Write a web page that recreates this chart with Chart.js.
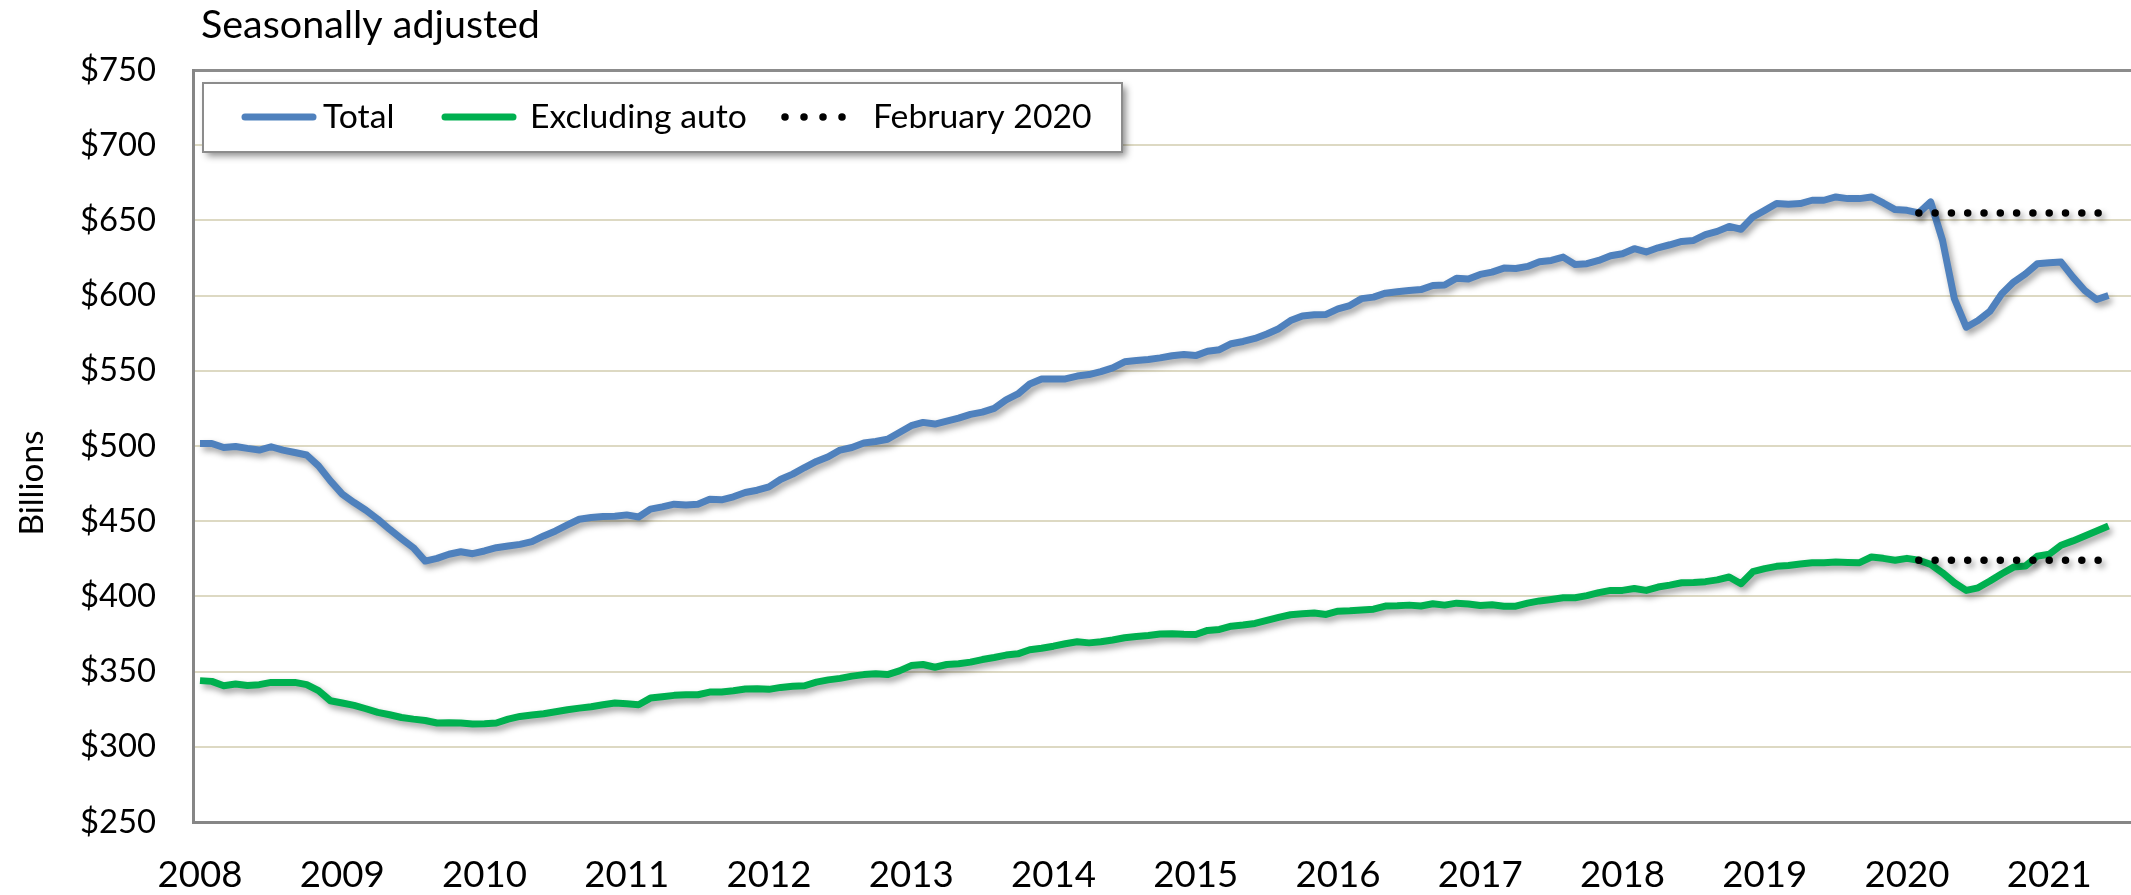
<!DOCTYPE html>
<html>
<head>
<meta charset="utf-8">
<script src="https://cdn.jsdelivr.net/npm/chart.js@4.4.0/dist/chart.umd.min.js"></script>
<style>
html,body{margin:0;padding:0;background:#fff;overflow:hidden}
#wrap{position:relative;width:2131px;height:895px}
canvas{display:block}
</style>
</head>
<body>
<div id="wrap"><canvas id="c" width="2131" height="895"></canvas></div>
<script>
// ---- data ----
const yearLabels = ['2008','2009','2010','2011','2012','2013','2014','2015','2016','2017','2018','2019','2020','2021'];
const monthNames = ['Jan','Feb','Mar','Apr','May','Jun','Jul','Aug','Sep','Oct','Nov','Dec'];
const yTickValues = [250,300,350,400,450,500,550,600,650,700,750];

// Total retail inventories, billions of dollars, Jan 2008 - Jun 2021
const total = [
501.7,501.7,499.0,499.7,498.4,497.3,499.5,497.3,495.7,494.0,486.8,476.8,
468.0,462.4,457.3,451.3,444.6,438.4,432.4,423.5,425.3,428.0,429.7,428.4,
430.2,432.4,433.5,434.6,436.4,440.2,443.5,447.5,451.3,452.4,453.1,453.3,
454.2,452.8,458.0,459.5,461.3,460.8,461.3,464.6,464.2,466.2,469.1,470.6,
472.8,477.9,481.3,485.7,489.7,492.8,497.3,499.0,502.0,503.0,504.5,509.0,
513.5,515.7,514.6,516.5,518.5,521.0,522.5,525.0,530.6,534.6,541.2,544.6,
544.6,544.6,546.5,547.5,549.5,552.0,556.0,556.8,557.5,558.6,560.0,560.8,
560.1,563.0,564.0,568.0,569.5,571.5,574.5,578.0,583.4,586.5,587.2,587.5,
591.2,593.4,598.0,599.0,601.6,602.5,603.4,604.0,606.7,607.0,611.5,611.0,
614.1,615.6,618.3,618.0,619.4,622.5,623.4,625.6,620.7,621.2,623.4,626.5,
627.8,631.2,629.0,631.8,633.8,636.0,636.7,640.5,642.7,646.0,644.1,652.3,
656.7,661.2,660.7,661.2,663.4,663.4,665.6,664.5,664.5,665.6,661.6,657.2,
656.7,655.0,662.3,636.7,597.9,579.0,583.4,589.6,601.2,609.0,614.5,621.2,
621.9,622.3,612.3,603.4,597.4,600.1
];

// Excluding auto
const exAuto = [
344.0,343.5,340.6,341.7,340.8,341.3,342.8,342.8,342.8,341.3,337.3,330.6,
329.1,327.5,325.3,322.9,321.3,319.5,318.4,317.5,315.8,316.0,315.8,315.1,
315.3,315.8,318.4,320.2,321.1,322.0,323.3,324.6,325.7,326.6,328.0,329.1,
328.6,328.0,332.4,333.3,334.2,334.6,334.6,336.4,336.4,337.3,338.4,338.6,
338.2,339.5,340.2,340.6,343.0,344.5,345.5,347.0,348.0,348.5,348.0,350.5,
354.0,354.7,352.9,354.7,355.2,356.3,358.0,359.4,361.0,361.8,364.5,365.5,
366.9,368.5,369.8,369.1,369.8,371.0,372.5,373.4,374.0,375.0,375.2,374.8,
374.7,377.4,378.0,380.2,381.0,382.0,384.0,386.0,387.8,388.5,389.0,388.0,
390.2,390.5,391.0,391.5,393.6,393.8,394.2,393.6,395.1,394.2,395.5,395.0,
394.0,394.4,393.5,393.5,395.5,397.0,398.0,399.1,399.1,400.5,402.5,404.0,
404.0,405.3,404.0,406.2,407.5,409.1,409.3,409.8,411.0,412.9,408.4,416.4,
418.5,420.0,420.6,421.5,422.4,422.4,422.8,422.6,422.4,426.2,425.3,424.0,
425.3,424.0,421.3,415.7,409.1,404.0,405.7,410.2,415.1,419.5,420.2,426.8,
428.0,434.0,436.9,440.2,443.5,446.8
];

const febLabel = 'Feb 2020';
const titleText = 'Seasonally adjusted';
const yTitleText = 'Billions';

// month categories
const categories = total.map((v, i) => monthNames[i % 12] + ' ' + yearLabels[Math.floor(i / 12)]);
const febIndex = categories.indexOf(febLabel);
const lastIndex = categories.length - 1;

// ---- styles ----
const FONT = 'Lato';
function fitSize(text, width) {
  const c = document.createElement('canvas').getContext('2d');
  c.font = '100px ' + FONT;
  return 100 * width / c.measureText(text).width;
}
const yTickSize = fitSize('$250', 76);
const xTickSize = fitSize('2008', 85);
const titleSize = fitSize(titleText, 339);
const yTitleSize = fitSize(yTitleText, 105);
const legendSize = fitSize('Excluding auto', 217);

const BLUE = '#4F81BD', GREEN = '#00B050', DOT = '#000000';

const toXY = arr => arr.map((v, i) => ({x: i, y: v}));
const flat = (arr) => [{x: febIndex, y: arr[febIndex]}, {x: lastIndex, y: arr[febIndex]}];

const datasets = [
  {label: 'Total', data: toXY(total), borderColor: BLUE, borderWidth: 7, order: 1},
  {label: 'Excluding auto', data: toXY(exAuto), borderColor: GREEN, borderWidth: 7, order: 1},
  {label: 'February 2020', data: flat(total), borderColor: DOT, borderWidth: 7.5, borderDash: [0, 16.3], borderCapStyle: 'round', order: 0},
  {label: 'February 2020 (ex auto)', data: flat(exAuto), borderColor: DOT, borderWidth: 7.5, borderDash: [0, 16.3], borderCapStyle: 'round', order: 0, inLegend: false}
];
datasets.forEach(d => { d.pointRadius = 0; d.tension = 0; d.fill = false; d.borderJoinStyle = 'round'; });

const shadowPlugin = {
  id: 'shadow',
  beforeDatasetDraw(chart) {
    const ctx = chart.ctx;
    ctx.save();
    ctx.shadowColor = 'rgba(0,0,0,0.38)';
    ctx.shadowBlur = 6;
    ctx.shadowOffsetX = 3;
    ctx.shadowOffsetY = 4;
  },
  afterDatasetDraw(chart) { chart.ctx.restore(); }
};

const decorPlugin = {
  id: 'decor',
  afterDraw(chart) {
    const ctx = chart.ctx;
    ctx.save();
    ctx.fillStyle = '#000';
    ctx.textAlign = 'left';
    ctx.textBaseline = 'alphabetic';
    ctx.font = titleSize + 'px ' + FONT;
    ctx.fillText(titleText, 201, 38);

    ctx.save();
    ctx.translate(43, 483);
    ctx.rotate(-Math.PI / 2);
    ctx.textAlign = 'center';
    ctx.font = yTitleSize + 'px ' + FONT;
    ctx.fillText(yTitleText, 0, 0);
    ctx.restore();

    // legend box
    const bx = 203, by = 83, bw = 919, bh = 69;
    ctx.save();
    ctx.shadowColor = 'rgba(0,0,0,0.45)';
    ctx.shadowBlur = 7;
    ctx.shadowOffsetX = 4;
    ctx.shadowOffsetY = 4;
    ctx.fillStyle = '#fff';
    ctx.fillRect(bx, by, bw, bh);
    ctx.restore();
    ctx.strokeStyle = '#8C8C8C';
    ctx.lineWidth = 2;
    ctx.strokeRect(bx, by, bw, bh);

    const items = chart.data.datasets.filter(d => d.inLegend !== false);
    const sampleX = [242, 442, 781];
    const textX = [323, 530, 873];
    const sy = 117;
    ctx.font = legendSize + 'px ' + FONT;
    items.forEach((d, k) => {
      ctx.save();
      ctx.strokeStyle = d.borderColor;
      ctx.lineWidth = d.borderWidth;
      ctx.lineCap = 'round';
      if (d.borderDash) {
        ctx.setLineDash([0, 19]);
        ctx.beginPath(); ctx.moveTo(sampleX[k] + 4, sy); ctx.lineTo(sampleX[k] + 80, sy); ctx.stroke();
      } else {
        ctx.beginPath(); ctx.moveTo(sampleX[k] + 3, sy); ctx.lineTo(sampleX[k] + 71, sy); ctx.stroke();
      }
      ctx.restore();
      ctx.fillStyle = '#000';
      ctx.fillText(d.label, textX[k], 128);
    });
    ctx.restore();
  }
};

new Chart(document.getElementById('c'), {
  type: 'line',
  data: {labels: categories, datasets: datasets},
  options: {
    responsive: false,
    animation: false,
    devicePixelRatio: 1,
    events: [],
    layout: {padding: {top: 70, left: 0, right: 0, bottom: 0}},
    plugins: {legend: {display: false}, tooltip: {enabled: false}, title: {display: false}},
    scales: {
      x: {
        type: 'linear',
        min: -0.59,
        max: 162.9,
        afterBuildTicks: s => { s.ticks = yearLabels.map((y, k) => ({value: k * 12})); },
        ticks: {
          callback: v => yearLabels[Math.round(v / 12)],
          autoSkip: false, maxRotation: 0, minRotation: 0,
          font: {family: FONT, size: xTickSize}, color: '#000', padding: 31
        },
        grid: {display: false, drawTicks: false},
        border: {display: true, color: '#868686', width: 3},
        afterFit: s => { s.height = 73; s.paddingLeft = 0; s.paddingRight = 0; }
      },
      y: {
        type: 'linear',
        min: 250, max: 750,
        afterBuildTicks: s => { s.ticks = yTickValues.map(v => ({value: v})); },
        ticks: {
          callback: v => '$' + v,
          font: {family: FONT, size: yTickSize}, color: '#000', padding: 37
        },
        grid: {
          color: c => (c.tick && c.tick.value === 750) ? '#8C8C8C' : '#DDD9C3',
          lineWidth: c => (c.tick && c.tick.value === 750) ? 3 : 2,
          drawTicks: false
        },
        border: {display: true, color: '#868686', width: 3},
        afterFit: s => { s.width = 193; s.paddingTop = 0; s.paddingBottom = 0; }
      }
    }
  },
  plugins: [shadowPlugin, decorPlugin]
});
</script>
</body>
</html>
